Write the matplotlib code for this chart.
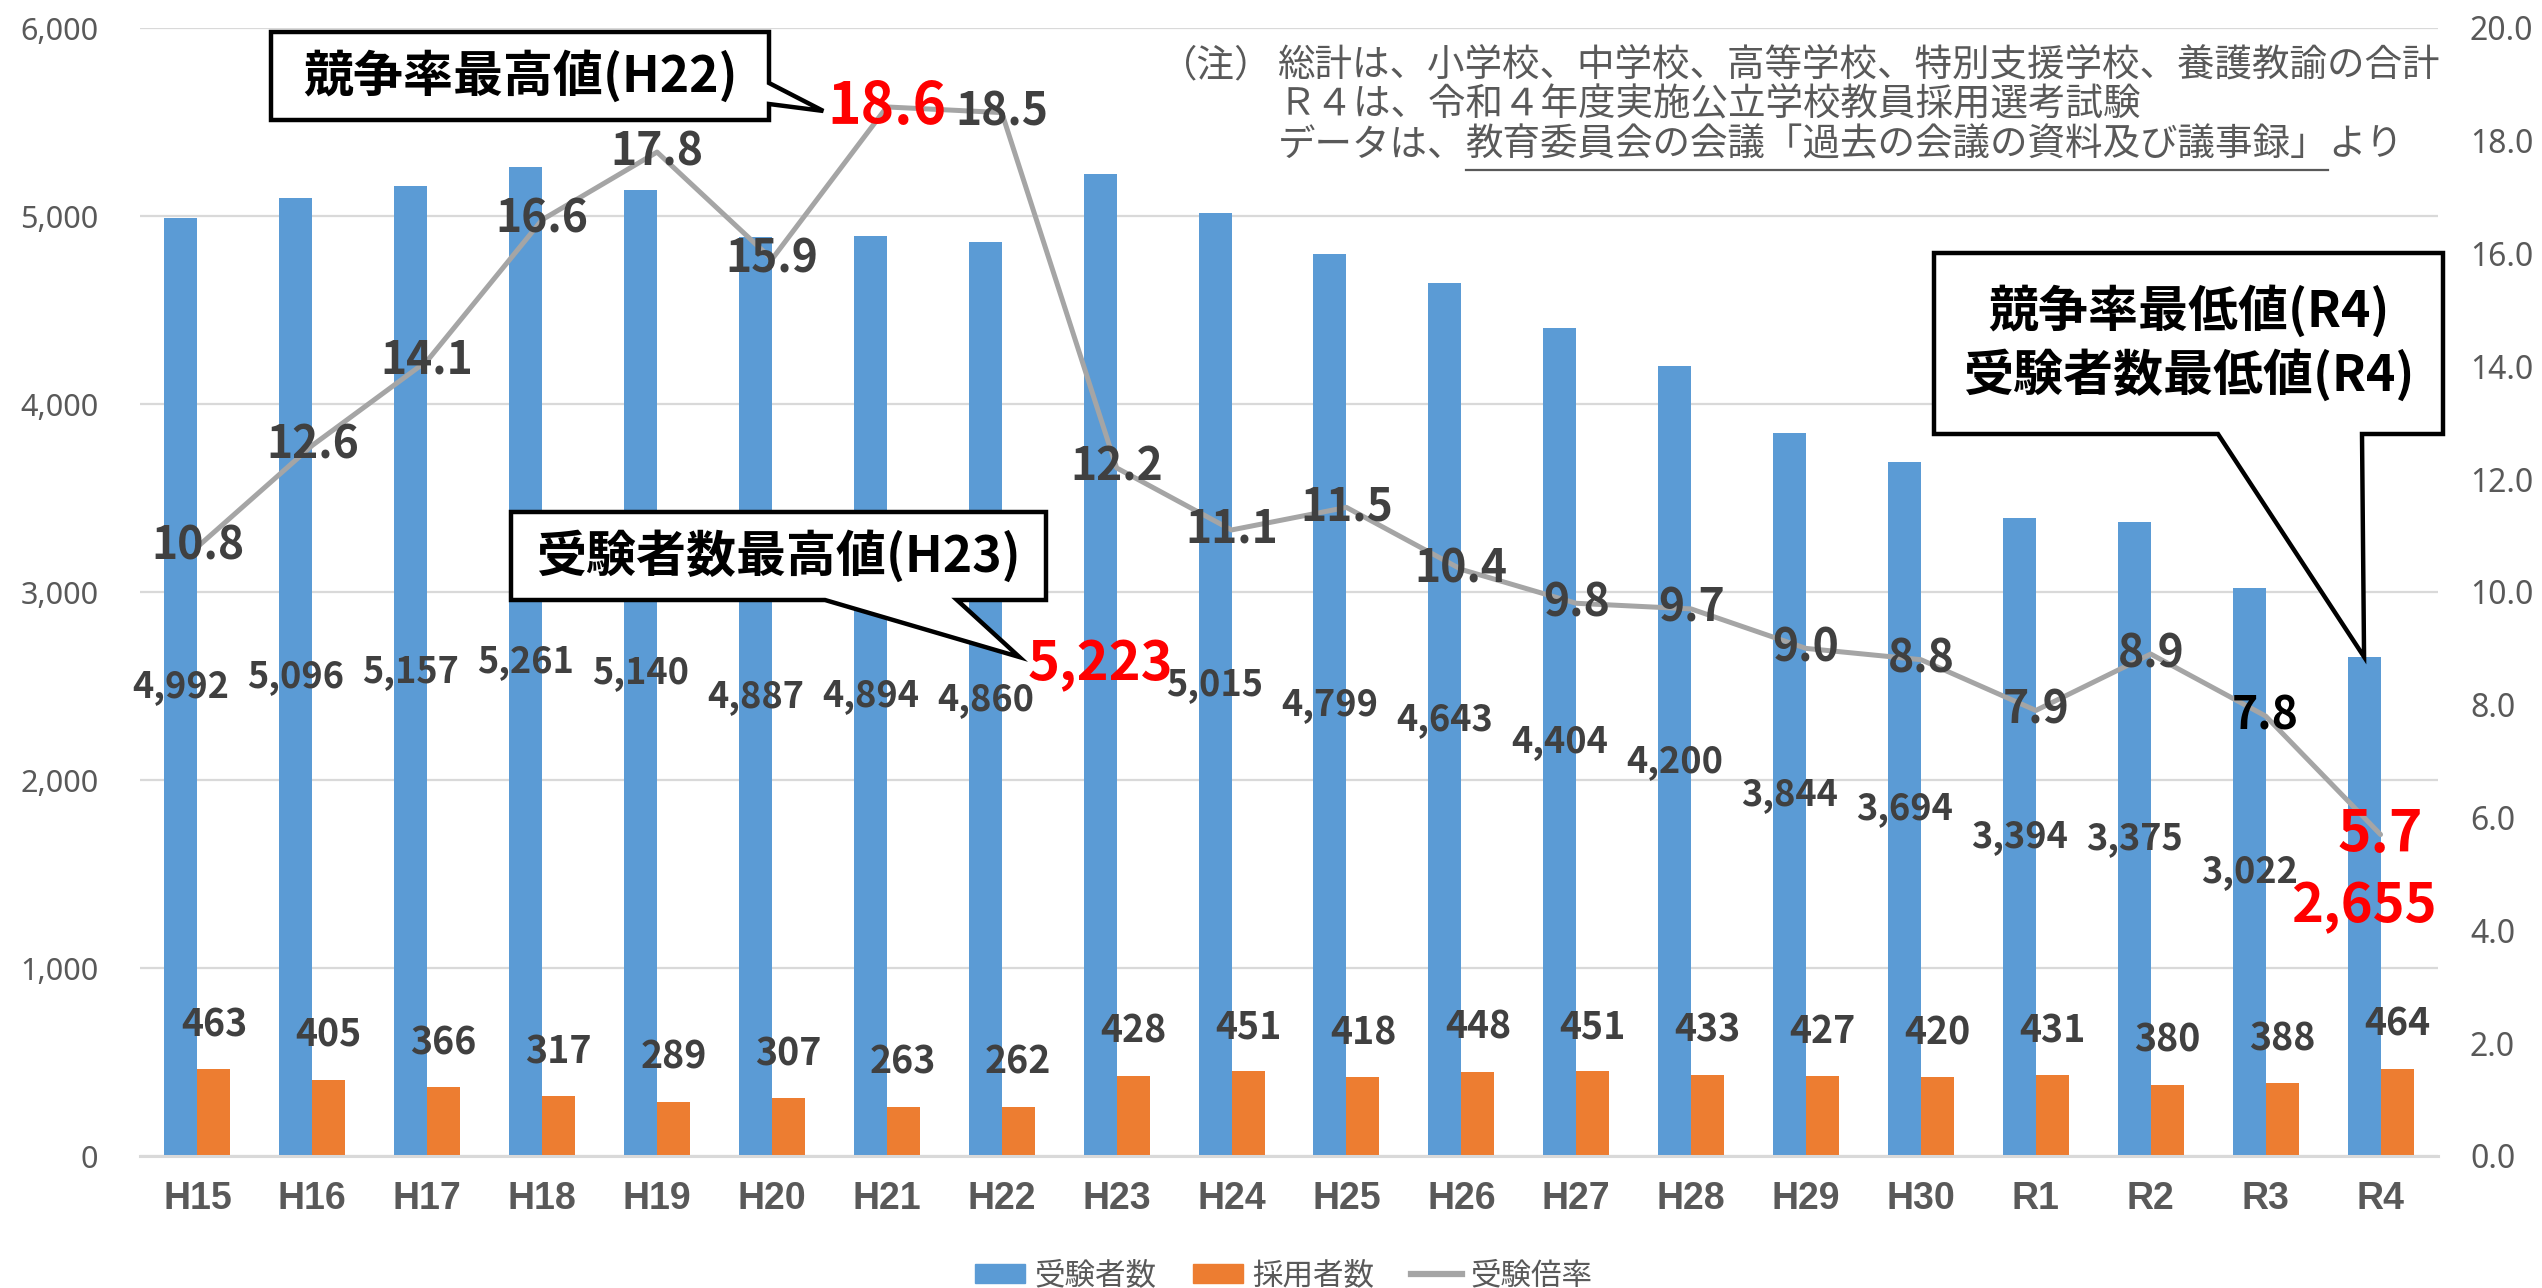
import matplotlib
matplotlib.use('Agg')
import matplotlib.pyplot as plt
import numpy as np
from matplotlib.patches import Polygon, Patch
from matplotlib.lines import Line2D

plt.rcParams['font.family'] = ['Noto Sans', 'Noto Sans CJK JP', 'DejaVu Sans']

years = ['H15', 'H16', 'H17', 'H18', 'H19', 'H20', 'H21', 'H22', 'H23', 'H24',
         'H25', 'H26', 'H27', 'H28', 'H29', 'H30', 'R1', 'R2', 'R3', 'R4']
applicants = [4992, 5096, 5157, 5261, 5140, 4887, 4894, 4860, 5223, 5015,
              4799, 4643, 4404, 4200, 3844, 3694, 3394, 3375, 3022, 2655]
hires = [463, 405, 366, 317, 289, 307, 263, 262, 428, 451,
         418, 448, 451, 433, 427, 420, 431, 380, 388, 464]
ratio = [10.8, 12.6, 14.1, 16.6, 17.8, 15.9, 18.6, 18.5, 12.2, 11.1,
         11.5, 10.4, 9.8, 9.7, 9.0, 8.8, 7.9, 8.9, 7.8, 5.7]
left_ticks = [0, 1000, 2000, 3000, 4000, 5000, 6000]
right_ticks = [0, 2, 4, 6, 8, 10, 12, 14, 16, 18, 20]
legend_labels = ['受験者数', '採用者数', '受験倍率']
note_head = '（注）'
note_lines = ['総計は、小学校、中学校、高等学校、特別支援学校、養護教諭の合計',
              'Ｒ４は、令和４年度実施公立学校教員採用選考試験']
note3 = ['データは、', '教育委員会の会議「過去の会議の資料及び議事録」', 'より']
callout1 = '競争率最高値(H22)'
callout2 = '受験者数最高値(H23)'
callout3 = '競争率最低値(R4)\n受験者数最低値(R4)'

BLUE = '#5B9BD5'
ORANGE = '#ED7D31'
GRAY_LINE = '#A5A5A5'
TXT = '#595959'
LBL = '#404040'
RED = '#FF0000'
NUMFONT = ['Noto Sans CJK JP', 'DejaVu Sans']
CJK = ['Noto Sans CJK JP', 'DejaVu Sans']

W, H = 2542, 1288
fig = plt.figure(figsize=(W / 100, H / 100), dpi=100)


def fpx(X, Y):
    return X / W, 1 - Y / H


ax = fig.add_axes([140 / W, 1 - 1156 / H, 2298 / W, 1128 / H])
x = np.arange(len(years))
bw = 0.287
ax.bar(x - bw / 2, applicants, bw, color=BLUE, zorder=2)
ax.bar(x + bw / 2, hires, bw, color=ORANGE, zorder=2)
ax.set_xlim(-0.5, len(years) - 0.5)
ax.set_ylim(0, 6000)
ax.set_yticks(left_ticks)
ax.set_yticklabels([f'{v:,}' for v in left_ticks])
ax.set_xticks(x)
ax.set_xticklabels(years)
ax.grid(axis='y', color='#D9D9D9', lw=1.6, zorder=0)
ax.set_axisbelow(True)
for s in ['left', 'right', 'top']:
    ax.spines[s].set_visible(False)
ax.spines['bottom'].set_color('#D9D9D9')
ax.spines['bottom'].set_linewidth(2.2)
ax.tick_params(axis='y', length=0, pad=30, labelsize=22, labelcolor=TXT)
ax.tick_params(axis='x', length=0, pad=18, labelsize=27, labelcolor=TXT)
for t in ax.get_xticklabels():
    t.set_fontfamily(['Liberation Sans', 'DejaVu Sans'])
    t.set_fontweight('bold')

ax2 = ax.twinx()
ax2.plot(x, ratio, color=GRAY_LINE, lw=3.6, zorder=3, solid_capstyle='round')
ax2.set_ylim(0, 20)
ax2.set_yticks(right_ticks)
ax2.set_yticklabels([f'{v:.1f}' for v in right_ticks])
for s in ['left', 'right', 'top', 'bottom']:
    ax2.spines[s].set_visible(False)
ax2.tick_params(axis='y', length=0, pad=23, labelsize=23, labelcolor=TXT)

# ratio labels
ratio_lbls = []
for i, v in enumerate(ratio):
    col, fs = LBL, 32
    if i in (6, 19):
        col, fs = RED, 41
    elif i == 18:
        col = '#000000'
    t = ax2.text(i, v, f'{v:.1f}', ha='center', va='center', fontsize=fs,
                 color=col, fontweight='bold', family=NUMFONT, zorder=5)
    ratio_lbls.append(t)

# applicant labels (centre of bar)
app_lbls = []
for i, v in enumerate(applicants):
    col, fs = LBL, 26
    if i in (8, 19):
        col, fs = RED, 39
    t = ax2.text(i - bw / 2, v / 2, f'{v:,}', ha='center', va='center', fontsize=fs,
                 color=col, fontweight='bold', family=NUMFONT,
                 transform=ax.transData, zorder=5)
    app_lbls.append(t)

# hires labels (outside end)
for i, v in enumerate(hires):
    ax2.annotate(f'{v}', (i + bw / 2, v), xycoords=ax.transData,
                 xytext=(0, 32), textcoords='offset points', ha='center', va='center',
                 fontsize=27, color=LBL, fontweight='bold', family=NUMFONT, zorder=5)

# legend
handles = [Patch(color=BLUE), Patch(color=ORANGE), Line2D([], [], color=GRAY_LINE, lw=4.5)]
leg = fig.legend(handles, legend_labels, loc='center', bbox_to_anchor=(0.505, 1 - 1276 / H),
                 ncol=3, frameon=False, fontsize=22, labelcolor=TXT, handlelength=1.65,
                 handleheight=0.6, handletextpad=0.3, columnspacing=1.2)
for t in leg.get_texts():
    t.set_fontfamily(CJK)

# notes
NFS = 27
fig.text(*fpx(1160, 66), note_head, ha='left', va='center', fontsize=NFS, color=TXT, family=CJK)
fig.text(*fpx(1278, 66), note_lines[0], ha='left', va='center', fontsize=NFS, color=TXT, family=CJK)
fig.text(*fpx(1278, 105), note_lines[1], ha='left', va='center', fontsize=NFS, color=TXT, family=CJK)

fig.canvas.draw()
renderer = fig.canvas.get_renderer()
inv = fig.transFigure.inverted()

xpos = 1278 / W
parts = []
for s in note3:
    t = fig.text(xpos, 1 - 145 / H, s, ha='left', va='center', fontsize=NFS, color=TXT,
                 family=CJK)
    fig.canvas.draw()
    bb = t.get_window_extent(renderer)
    parts.append(bb)
    xpos = inv.transform((bb.x1, bb.y0))[0]
ub = parts[1]
uy = 1 - 170 / H
fig.add_artist(Line2D([inv.transform((ub.x0, 0))[0], inv.transform((ub.x1, 0))[0]], [uy, uy],
                      transform=fig.transFigure, color=TXT, lw=1.6))


def callout(box, text, side, base, tip, fs, ls=1.2):
    """box=(X0,Y0,X1,Y1) px from top-left; base=(a,b) along edge; tip in display px."""
    X0, Y0, X1, Y1 = box
    tipf = inv.transform(tip)
    if side == 'right':
        pts = [fpx(X0, Y0), fpx(X1, Y0), fpx(X1, base[0]), tuple(tipf), fpx(X1, base[1]),
               fpx(X1, Y1), fpx(X0, Y1)]
    else:  # bottom
        pts = [fpx(X0, Y0), fpx(X1, Y0), fpx(X1, Y1), fpx(base[1], Y1), tuple(tipf),
               fpx(base[0], Y1), fpx(X0, Y1)]
    poly = Polygon(pts, closed=True, facecolor='white', edgecolor='black', lw=3.2,
                   transform=fig.transFigure, zorder=10, joinstyle='miter')
    fig.add_artist(poly)
    fig.text((X0 + X1) / 2 / W, 1 - (Y0 + Y1) / 2 / H, text, ha='center', va='center',
             fontsize=fs, fontweight='bold', color='black', zorder=11,
             family=CJK, linespacing=ls, multialignment='center')


bb18 = ratio_lbls[6].get_window_extent(renderer)
callout((271, 32, 769, 120), callout1, 'right', (83, 104),
        (bb18.x0 - 4, (bb18.y0 + bb18.y1) / 2 - 4), 36)
bb52 = app_lbls[8].get_window_extent(renderer)
callout((511, 512, 1046, 600), callout2, 'bottom', (825, 957),
        (bb52.x0 - 8, (bb52.y0 + bb52.y1) / 2 + 8), 36)
tip3 = ax.transData.transform((19 - bw / 2, applicants[19]))
callout((1934, 253, 2443, 434), callout3, 'bottom', (2218, 2362),
        (tip3[0], tip3[1]), 36, 1.25)

fig.savefig('out.png', dpi=100)
